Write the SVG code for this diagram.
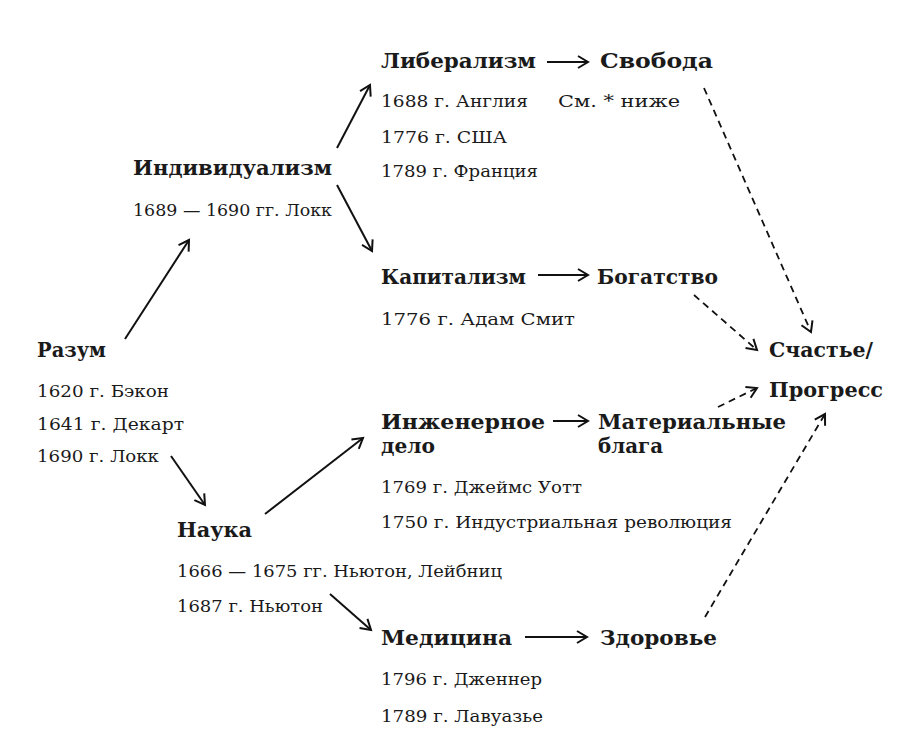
<svg xmlns="http://www.w3.org/2000/svg" width="912" height="749" viewBox="0 0 912 749">
<style>
.b{font-family:"DejaVu Serif","Liberation Serif",serif;font-weight:bold;font-size:21px;fill:#1a1a1a}
.r{font-family:"DejaVu Serif","Liberation Serif",serif;font-size:17.5px;fill:#1a1a1a}
.s{stroke:#111;stroke-width:2;fill:none}
.d{stroke:#111;stroke-width:1.8;fill:none;stroke-dasharray:7 5}
</style>
<defs>
<marker id="ah" markerUnits="userSpaceOnUse" markerWidth="16" markerHeight="16" viewBox="-12 -8 16 16" refX="0" refY="0" orient="auto">
<polyline points="-10,-6 0,0 -10,6" fill="none" stroke="#111" stroke-width="2"/>
</marker>
</defs>
<rect width="912" height="749" fill="#fff"/>
<g id="connectors">
<line class="s" x1="125" y1="339" x2="189" y2="240" marker-end="url(#ah)"/>
<line class="s" x1="337" y1="148" x2="370" y2="85" marker-end="url(#ah)"/>
<line class="s" x1="337" y1="185" x2="372" y2="251" marker-end="url(#ah)"/>
<line class="s" x1="171" y1="456" x2="205" y2="505" marker-end="url(#ah)"/>
<line class="s" x1="265" y1="514" x2="363" y2="438" marker-end="url(#ah)"/>
<line class="s" x1="330" y1="594" x2="371" y2="630" marker-end="url(#ah)"/>
<line class="s" x1="547" y1="62" x2="588" y2="62" marker-end="url(#ah)"/>
<line class="s" x1="538" y1="275" x2="588" y2="275" marker-end="url(#ah)"/>
<line class="s" x1="553" y1="421" x2="588" y2="421" marker-end="url(#ah)"/>
<line class="s" x1="525" y1="637" x2="587" y2="637" marker-end="url(#ah)"/>
<line class="d" x1="704" y1="88" x2="811" y2="332" marker-end="url(#ah)"/>
<line class="d" x1="694" y1="295" x2="757" y2="350" marker-end="url(#ah)"/>
<line class="d" x1="718" y1="407" x2="757" y2="388" marker-end="url(#ah)"/>
<line class="d" x1="705" y1="617" x2="825" y2="414" marker-end="url(#ah)"/>
</g>
<g id="razum">
<text class="b" x="37" y="357" textLength="69" lengthAdjust="spacingAndGlyphs">Разум</text>
<text class="r" x="37" y="397" textLength="132" lengthAdjust="spacingAndGlyphs">1620 г. Бэкон</text>
<text class="r" x="37" y="430" textLength="147" lengthAdjust="spacingAndGlyphs">1641 г. Декарт</text>
<text class="r" x="37" y="462" textLength="122" lengthAdjust="spacingAndGlyphs">1690 г. Локк</text>
</g>
<g id="individualizm">
<text class="b" x="133" y="175" textLength="199" lengthAdjust="spacingAndGlyphs">Индивидуализм</text>
<text class="r" x="133" y="216" textLength="199" lengthAdjust="spacingAndGlyphs">1689 — 1690 гг. Локк</text>
</g>
<g id="liberalizm">
<text class="b" x="381" y="68" textLength="155" lengthAdjust="spacingAndGlyphs">Либерализм</text>
<text class="r" x="381" y="107" textLength="147" lengthAdjust="spacingAndGlyphs">1688 г. Англия</text>
<text class="r" x="381" y="143" textLength="126" lengthAdjust="spacingAndGlyphs">1776 г. США</text>
<text class="r" x="381" y="177" textLength="157" lengthAdjust="spacingAndGlyphs">1789 г. Франция</text>
</g>
<g id="svoboda">
<text class="b" x="600" y="68" textLength="113" lengthAdjust="spacingAndGlyphs">Свобода</text>
<text class="r" x="558" y="107" textLength="122" lengthAdjust="spacingAndGlyphs">См. * ниже</text>
</g>
<g id="kapitalizm">
<text class="b" x="381" y="284" textLength="145" lengthAdjust="spacingAndGlyphs">Капитализм</text>
<text class="r" x="381" y="325" textLength="194" lengthAdjust="spacingAndGlyphs">1776 г. Адам Смит</text>
</g>
<g id="bogatstvo">
<text class="b" x="597" y="284" textLength="121" lengthAdjust="spacingAndGlyphs">Богатство</text>
</g>
<g id="schastie">
<text class="b" x="769" y="357" textLength="104" lengthAdjust="spacingAndGlyphs">Счастье/</text>
<text class="b" x="769" y="397" textLength="114" lengthAdjust="spacingAndGlyphs">Прогресс</text>
</g>
<g id="inzhenernoe">
<text class="b" x="381" y="429" textLength="164" lengthAdjust="spacingAndGlyphs">Инженерное</text>
<text class="b" x="381" y="453" textLength="54" lengthAdjust="spacingAndGlyphs">дело</text>
<text class="r" x="381" y="493" textLength="201" lengthAdjust="spacingAndGlyphs">1769 г. Джеймс Уотт</text>
<text class="r" x="381" y="528" textLength="351" lengthAdjust="spacingAndGlyphs">1750 г. Индустриальная революция</text>
</g>
<g id="materialnye">
<text class="b" x="598" y="429" textLength="188" lengthAdjust="spacingAndGlyphs">Материальные</text>
<text class="b" x="598" y="453" textLength="65" lengthAdjust="spacingAndGlyphs">блага</text>
</g>
<g id="nauka">
<text class="b" x="177" y="537" textLength="75" lengthAdjust="spacingAndGlyphs">Наука</text>
<text class="r" x="177" y="577" textLength="325" lengthAdjust="spacingAndGlyphs">1666 — 1675 гг. Ньютон, Лейбниц</text>
<text class="r" x="177" y="612" textLength="146" lengthAdjust="spacingAndGlyphs">1687 г. Ньютон</text>
</g>
<g id="medicina">
<text class="b" x="381" y="645" textLength="131" lengthAdjust="spacingAndGlyphs">Медицина</text>
<text class="r" x="381" y="685" textLength="161" lengthAdjust="spacingAndGlyphs">1796 г. Дженнер</text>
<text class="r" x="381" y="722" textLength="162" lengthAdjust="spacingAndGlyphs">1789 г. Лавуазье</text>
</g>
<g id="zdorovie">
<text class="b" x="600" y="645" textLength="117" lengthAdjust="spacingAndGlyphs">Здоровье</text>
</g>
</svg>
